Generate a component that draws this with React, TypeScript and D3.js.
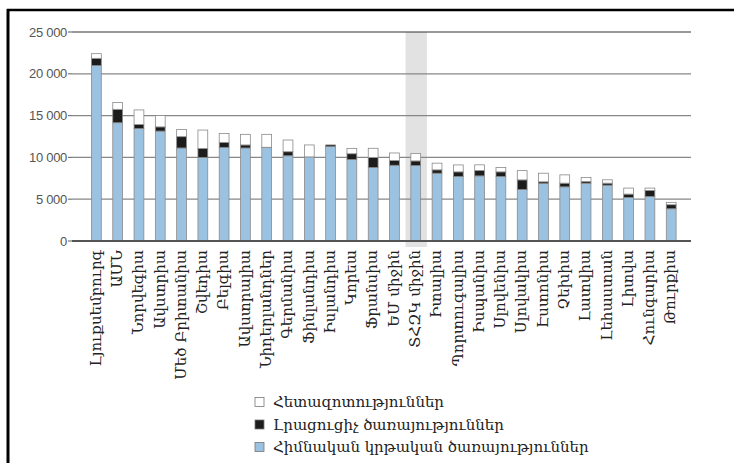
import { useEffect, useRef } from 'react';
import * as d3 from 'd3';

// countries in the order drawn (per student spending, USD)
const countries = [
  'Լյուքսեմբուրգ', 'ԱՄՆ', 'Նորվեգիա', 'Ավստրիա', 'Մեծ Բրիտանիա', 'Շվեդիա',
  'Բելգիա', 'Ավստրալիա', 'Նիդերլանդներ', 'Գերմանիա', 'Ֆինլանդիա', 'Իսլանդիա',
  'Կորեա', 'Ֆրանսիա', 'ԵՄ միջին', 'ՏՀԶԿ միջին', 'Իտալիա', 'Պորտուգալիա',
  'Իսպանիա', 'Սլովենիա', 'Սլովակիա', 'Էստոնիա', 'Չեխիա', 'Լատվիա',
  'Լեհաստան', 'Լիտվա', 'Հունգարիա', 'Թուրքիա',
];

const basic = [
  21000, 14150, 13450, 13150, 11130, 10000, 11200, 11130, 11170, 10200, 10060, 11290,
  9740, 8790, 9060, 9020, 8110, 7710, 7790, 7710, 6160, 6880, 6480, 6920,
  6680, 5210, 5330, 3860,
];
const ancillary = [
  850, 1600, 480, 500, 1350, 1070, 600, 360, 40, 480, 0, 200,
  700, 1190, 560, 560, 400, 560, 640, 560, 1150, 200, 440, 200,
  240, 400, 720, 480,
];
const research = [
  560, 830, 1750, 1350, 870, 2200, 1070, 1270, 1550, 1400, 1430, 0,
  640, 1110, 910, 870, 800, 830, 680, 520, 1110, 1030, 990, 480,
  400, 720, 280, 280,
];

const yTicks = [0, 5000, 10000, 15000, 20000, 25000];
const highlight = 'ՏՀԶԿ միջին';

const legendItems = [
  { label: 'Հետազոտություններ', color: '#ffffff' },
  { label: 'Լրացուցիչ ծառայություններ', color: '#1c1c1c' },
  { label: 'Հիմնական կրթական ծառայություններ', color: '#9cc2e1' },
];

const App = () => {
  const ref = useRef<SVGSVGElement>(null);

  useEffect(() => {
    const width = 734;
    const height = 463;
    const svg = d3.select(ref.current);
    svg.selectAll('*').remove();
    svg.attr('width', width).attr('height', height);

    svg.append('rect').attr('width', width).attr('height', height).attr('fill', '#fff');

    // outer frame (top + left)
    svg.append('line').attr('x1', 7).attr('x2', width).attr('y1', 10).attr('y2', 10)
      .attr('stroke', '#000').attr('stroke-width', 2.5);
    svg.append('line').attr('x1', 8).attr('x2', 8).attr('y1', 9).attr('y2', height)
      .attr('stroke', '#000').attr('stroke-width', 3);

    const x = d3.scaleBand<string>()
      .domain(countries)
      .range([80, 687.6])
      .padding(0.54);

    const y = d3.scaleLinear()
      .domain([0, 25000])
      .range([241, 32]);

    // highlighted column
    const step = x.step();
    svg.append('rect')
      .attr('x', x(highlight)! + x.bandwidth() / 2 - step / 2 + 0.5)
      .attr('y', y(25000))
      .attr('width', step)
      .attr('height', y(0) - y(25000) + 6)
      .attr('fill', '#e2e2e2');

    // grid
    const grid = svg.append('g');
    yTicks.forEach((t) => {
      grid.append('line')
        .attr('x1', 72).attr('x2', 691)
        .attr('y1', y(t)).attr('y2', y(t))
        .attr('stroke', t === 25000 ? '#333' : '#888')
        .attr('stroke-width', t === 0 ? 0 : 1.2);
      grid.append('line')
        .attr('x1', 68).attr('x2', 72)
        .attr('y1', y(t)).attr('y2', y(t))
        .attr('stroke', '#777').attr('stroke-width', 1.2);
      grid.append('text')
        .attr('x', 67).attr('y', y(t))
        .attr('dy', '0.35em')
        .attr('text-anchor', 'end')
        .style('font-family', '"Liberation Sans Narrow", "Liberation Sans", sans-serif')
        .style('font-size', '13px')
        .style('letter-spacing', '-0.3px')
        .attr('fill', '#555')
        .text(d3.format(',')(t).replace(/,/g, ' '));
    });

    // stacked bars
    const stacked = countries.map((c, i) => {
      const b = basic[i];
      const a = ancillary[i];
      const r = research[i];
      return [
        { y0: 0, y1: b, fill: legendItems[2].color },
        { y0: b, y1: b + a, fill: legendItems[1].color },
        { y0: b + a, y1: b + a + r, fill: legendItems[0].color },
      ].map((s) => ({ ...s, c }));
    });

    const bars = svg.append('g');
    stacked.forEach((segs) => {
      segs.forEach((s) => {
        if (s.y1 - s.y0 <= 0) return;
        bars.append('rect')
          .attr('x', x(s.c)!)
          .attr('y', y(s.y1))
          .attr('width', x.bandwidth())
          .attr('height', y(s.y0) - y(s.y1))
          .attr('fill', s.fill)
          .attr('stroke', '#8a8a8a')
          .attr('stroke-width', 0.8);
      });
    });

    // zero axis
    svg.append('line')
      .attr('x1', 72).attr('x2', 691)
      .attr('y1', y(0)).attr('y2', y(0))
      .attr('stroke', '#555').attr('stroke-width', 2);

    // category labels
    svg.append('g')
      .selectAll('text')
      .data(countries)
      .join('text')
      .attr('transform', (d) => `translate(${x(d)! + x.bandwidth() / 2 - 1},250) rotate(-90)`)
      .attr('dy', '0.35em')
      .attr('text-anchor', 'end')
      .style('font-family', '"DejaVu Serif", serif')
      .style('font-size', '15px')
      .attr('fill', '#222')
      .text((d) => d);

    // legend
    const legend = svg.append('g');
    legendItems.forEach((item, i) => {
      const ly = 402 + i * 22.5;
      legend.append('rect')
        .attr('x', 255).attr('y', ly - 4.5)
        .attr('width', 9).attr('height', 9)
        .attr('fill', item.color)
        .attr('stroke', '#777').attr('stroke-width', 0.8);
      legend.append('text')
        .attr('x', 273).attr('y', ly)
        .attr('dy', '0.35em')
        .style('font-family', '"DejaVu Serif", serif')
        .style('font-size', '15px')
        .attr('fill', '#222')
        .text(item.label);
    });
  }, []);

  return (
    <div style={{ position: 'absolute', left: 0, top: 0 }}>
      <svg ref={ref}></svg>
    </div>
  );
};

export default App;
